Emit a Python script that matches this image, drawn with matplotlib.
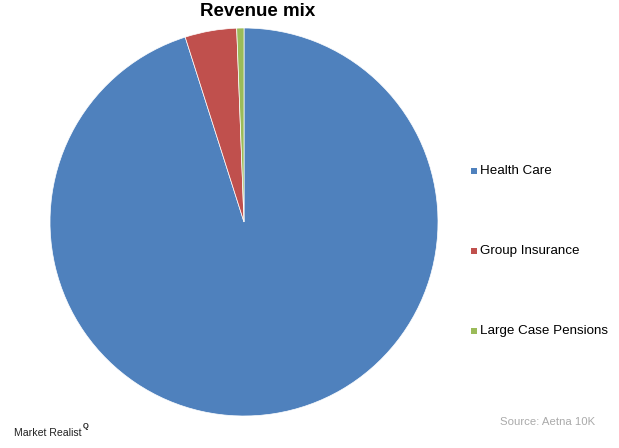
import matplotlib
matplotlib.use("Agg")
import matplotlib.pyplot as plt
from matplotlib.patches import Rectangle

categories = ["Health Care", "Group Insurance", "Large Case Pensions"]
values = [95.1, 4.3, 0.6]
colors = ["#4F81BD", "#C0504D", "#9BBB59"]

plt.rcParams['font.family'] = ['Liberation Sans', 'DejaVu Sans']

W, H = 619, 448
fig = plt.figure(figsize=(W/100, H/100), dpi=100)
fig.patch.set_facecolor("white")

cx, cy, r = 244, 222, 194
ax = fig.add_axes([(cx - r)/W, (H - cy - r)/H, 2*r/W, 2*r/H])
ax.pie(values, colors=colors, startangle=90, counterclock=False,
       radius=1.0, wedgeprops=dict(edgecolor="white", linewidth=0.5))
ax.set_xlim(-1, 1)
ax.set_ylim(-1, 1)
ax.set_aspect("auto")
ax.axis("off")

fig.text(258/W, 1 - 11/H, "Revenue mix", ha="center", va="center",
         fontsize=13.5, fontweight="bold", color="black")

# legend
ys = [171, 251, 331]
for cat, col, y in zip(categories, colors, ys):
    fig.patches.append(Rectangle((471/W, 1 - (y + 3)/H), 6/W, 6/H,
                                 transform=fig.transFigure, facecolor=col,
                                 edgecolor="none"))
    fig.text(480/W, 1 - y/H, cat, ha="left", va="center", fontsize=9.6,
             color="black")

fig.text(500/W, 1 - 422/H, "Source: Aetna 10K", ha="left", va="center",
         fontsize=8.2, color="#AAAAAA")
fig.text(14/W, 1 - 433/H, "Market Realist", ha="left", va="center",
         fontsize=7.6, color="#222222")
fig.text(83/W, 1 - 426/H, "Q", ha="left", va="center", fontsize=5.5,
         fontweight="bold", color="#222222")

fig.savefig("out.png", dpi=100, facecolor="white")
